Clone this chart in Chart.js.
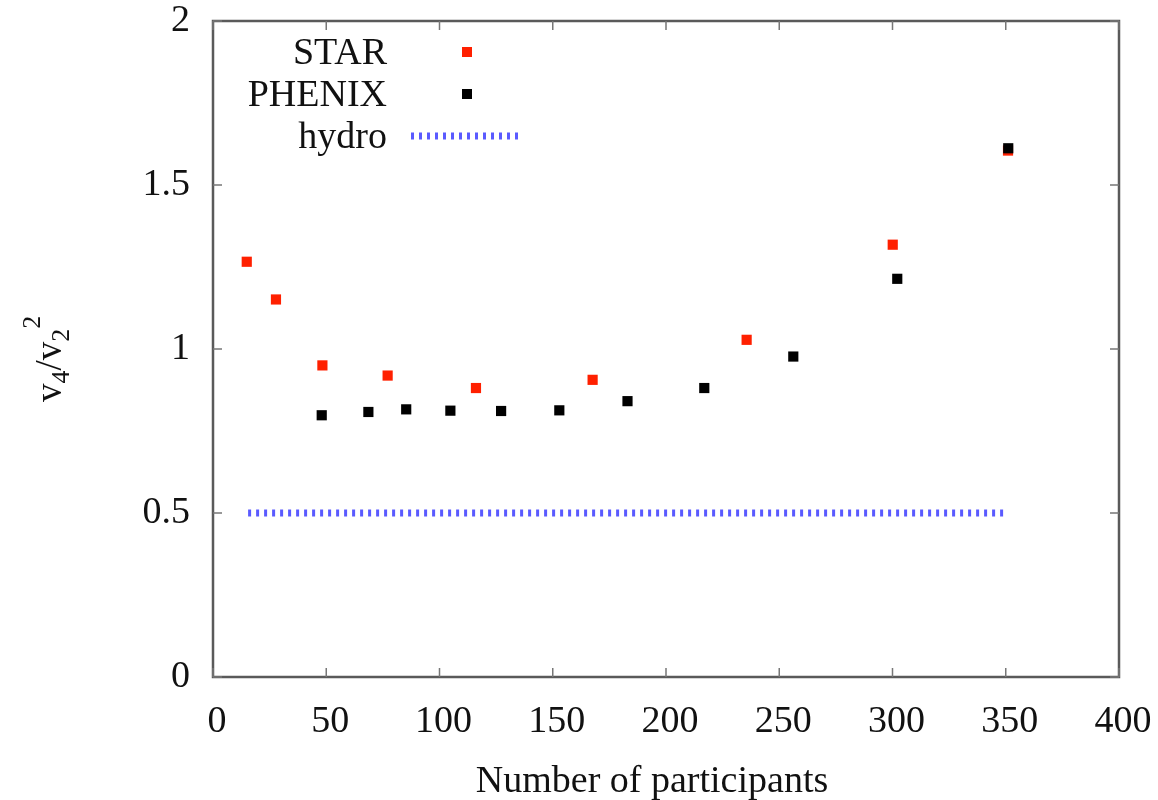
<!DOCTYPE html>
<html>
<head>
<meta charset="utf-8">
<script src="https://cdn.jsdelivr.net/npm/chart.js@4.4.1/dist/chart.umd.min.js"></script>
<style>
html,body{margin:0;padding:0;background:#fff;}
#wrap{width:1158px;height:800px;position:relative;}
</style>
</head>
<body>
<div id="wrap"><canvas id="c" width="1158" height="800"></canvas></div>
<script>
// ---- data ----
const starX = [14.9, 27.8, 48.3, 77.1, 116.1, 167.6, 235.6, 300.1, 351.0];
const starY = [1.266, 1.151, 0.950, 0.919, 0.881, 0.906, 1.028, 1.318, 1.605];
const phenixX = [48.0, 68.6, 85.3, 104.8, 127.2, 152.9, 183.0, 216.9, 256.2, 302.1, 351.1];
const phenixY = [0.798, 0.808, 0.816, 0.812, 0.811, 0.813, 0.841, 0.881, 0.977, 1.214, 1.612];
const hydroX = [15.5, 351.0];
const hydroY = [0.5, 0.5];
const xTicks = [0, 50, 100, 150, 200, 250, 300, 350, 400];
const yTicks = [0, 0.5, 1, 1.5, 2];
const seriesNames = ['STAR', 'PHENIX', 'hydro'];
const xTitle = 'Number of participants';

const FONT = '"Liberation Serif", "Times New Roman", serif';
const toPts = (xs, ys) => xs.map((x, i) => ({x: x, y: ys[i]}));

const framePlugin = {
  id: 'frame',
  afterDatasetsDraw(chart) {
    const {ctx, chartArea: a, scales} = chart;
    ctx.save();
    ctx.strokeStyle = '#5a5a5a';
    ctx.lineWidth = 2.5;
    ctx.strokeRect(a.left, a.top, a.right - a.left, a.bottom - a.top);
    ctx.lineWidth = 1.5;
    ctx.strokeStyle = '#777';
    const tl = 9;
    xTicks.forEach(v => {
      const p = scales.x.getPixelForValue(v);
      ctx.beginPath();
      ctx.moveTo(p, a.bottom); ctx.lineTo(p, a.bottom - tl);
      ctx.moveTo(p, a.top); ctx.lineTo(p, a.top + tl);
      ctx.stroke();
    });
    yTicks.forEach(v => {
      const p = scales.y.getPixelForValue(v);
      ctx.beginPath();
      ctx.moveTo(a.left, p); ctx.lineTo(a.left + tl, p);
      ctx.moveTo(a.right, p); ctx.lineTo(a.right - tl, p);
      ctx.stroke();
    });
    ctx.restore();
  }
};

const textPlugin = {
  id: 'texts',
  afterDraw(chart) {
    const {ctx, chartArea: a} = chart;
    ctx.save();
    ctx.fillStyle = '#111';
    // x title
    ctx.font = '38px ' + FONT;
    ctx.textAlign = 'center';
    ctx.textBaseline = 'alphabetic';
    ctx.fillText(xTitle, 652, 792);

    // y title  v_4 / v_2 ^2  (rotated)
    ctx.translate(61, 402);
    ctx.rotate(-Math.PI / 2);
    ctx.textAlign = 'left';
    const big = '37px ' + FONT, small = '26px ' + FONT;
    const parts = [
      {t: 'v', f: big, dy: 0},
      {t: '4', f: small, dy: 8},
      {t: '/', f: big, dy: 0},
      {t: 'v', f: big, dy: 0},
      {t: '2', f: small, dy: 8},
      {t: '2', f: small, dy: -21}
    ];
    let xx = 0;
    parts.forEach(p => {
      ctx.font = p.f;
      ctx.fillText(p.t, xx, p.dy);
      xx += ctx.measureText(p.t).width;
    });
    ctx.restore();

    // legend (gnuplot style: right aligned text, sample on the right)
    ctx.save();
    ctx.font = '38px ' + FONT;
    ctx.textAlign = 'right';
    ctx.textBaseline = 'middle';
    ctx.fillStyle = '#111';
    const rows = [52, 94, 136];
    chart.data.datasets.forEach((ds, i) => {
      const y = rows[i];
      ctx.fillText(ds.label, 387, y + 2);
      if (ds.showLine) {
        ctx.strokeStyle = ds.borderColor;
        ctx.lineWidth = ds.borderWidth;
        ctx.setLineDash(ds.borderDash);
        ctx.beginPath();
        ctx.moveTo(411, y); ctx.lineTo(522, y);
        ctx.stroke();
        ctx.setLineDash([]);
      } else {
        ctx.fillStyle = ds.backgroundColor;
        ctx.fillRect(467 - 5, y - 5, 10, 10);
        ctx.fillStyle = '#111';
      }
    });
    ctx.restore();
  }
};

new Chart(document.getElementById('c'), {
  type: 'scatter',
  data: {
    datasets: [
      {
        label: seriesNames[0],
        data: toPts(starX, starY),
        pointStyle: 'rect', pointRadius: 7.2, pointHoverRadius: 7.2,
        backgroundColor: '#ff2000', borderWidth: 0, borderColor: '#ff2000',
        showLine: false, order: 2
      },
      {
        label: seriesNames[1],
        data: toPts(phenixX, phenixY),
        pointStyle: 'rect', pointRadius: 7.2, pointHoverRadius: 7.2,
        backgroundColor: '#000000', borderWidth: 0, borderColor: '#000',
        showLine: false, order: 1
      },
      {
        label: seriesNames[2],
        data: toPts(hydroX, hydroY),
        showLine: true, pointRadius: 0,
        borderColor: '#5a5aff', borderWidth: 7, borderDash: [3, 5],
        backgroundColor: '#5a5aff', order: 3
      }
    ]
  },
  options: {
    responsive: false,
    animation: false,
    events: [],
    layout: {padding: {top: 21, right: 39, left: 0, bottom: 0}},
    plugins: {legend: {display: false}, tooltip: {enabled: false}},
    scales: {
      x: {
        type: 'linear', min: 0, max: 400,
        afterFit: s => { s.height = 123; s.paddingLeft = 0; s.paddingRight = 0; },
        afterBuildTicks: s => { s.ticks = xTicks.map(v => ({value: v})); },
        grid: {display: false, drawTicks: false},
        border: {display: false},
        ticks: {font: {family: FONT, size: 38}, color: '#111', padding: 22, labelOffset: 4, maxRotation: 0, autoSkip: false,
                callback: v => String(v)}
      },
      y: {
        type: 'linear', min: 0, max: 2,
        afterFit: s => { s.width = 213; s.paddingTop = 0; s.paddingBottom = 0; },
        afterBuildTicks: s => { s.ticks = yTicks.map(v => ({value: v})); },
        grid: {display: false, drawTicks: false},
        border: {display: false},
        ticks: {font: {family: FONT, size: 38}, color: '#111', padding: 23, autoSkip: false,
                callback: v => String(v)}
      }
    }
  },
  plugins: [framePlugin, textPlugin]
});
</script>
</body>
</html>
